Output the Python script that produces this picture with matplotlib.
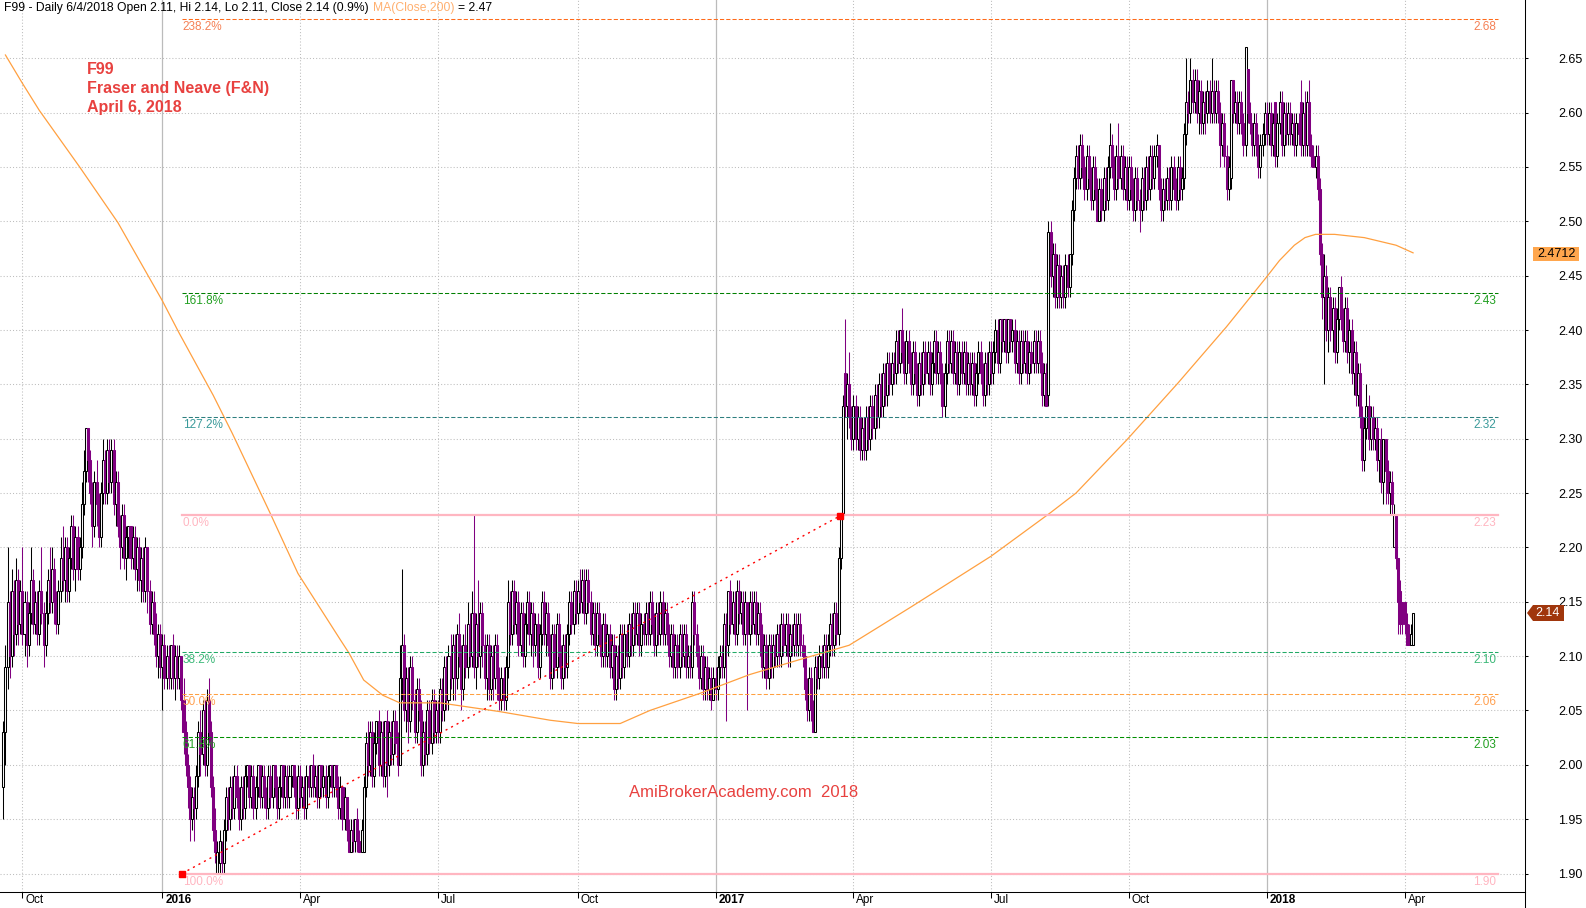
import matplotlib
matplotlib.use("Agg")
import matplotlib.pyplot as plt
from matplotlib import transforms
from matplotlib.lines import Line2D
from matplotlib.patches import Polygon, Rectangle
import numpy as np
import pandas as pd

plt.rcParams["font.family"] = ["Liberation Sans", "DejaVu Sans"]

W, H = 1586, 908


def cents(text):
    return np.array([int(v) for v in text.split()]) / 100.0


# F99 daily bars, 18 Sep 2015 .. 6 Apr 2018 (prices in cents, 10 bars per row)
opens = cents("""
198 203 209 215 210 216 212 217 213 216
212 215 211 214 217 213 215 212 216 214
211 214 217 215 218 215 213 216 219 217
220 216 219 222 218 221 218 220 224 227
231 228 225 222 226 224 221 225 228 225
229 226 229 224 226 222 220 223 219 221
222 219 221 218 220 217 219 216 220 216
213 215 212 210 212 209 211 208 210 208
211 208 210 208 210 206 203 200 198 195
197 196 199 203 201 205 200 206 203 198
194 190 191 192 191 194 197 195 198 196
199 197 195 198 196 199 200 197 199 196
198 200 197 199 197 196 199 197 200 198
196 198 200 197 199 197 199 200 198 196
199 197 198 196 199 198 200 198 199 197
200 198 199 197 199 200 198 200 198 196
198 195 197 194 192 194 193 195 193 192
192 198 202 200 203 199 202 204 200 203
199 204 200 203 201 204 202 200 208 211
205 208 204 209 206 203 207 205 200 203
201 205 202 206 203 205 203 207 205 209
206 210 208 211 208 212 210 207 211 209
213 210 214 209 213 210 214 211 208 211
207 210 208 211 208 206 208 206 209 215
212 216 213 215 211 214 210 213 215 212
214 211 213 209 212 215 212 214 211 208
212 209 213 210 208 211 209 212 215 213
216 214 216 215 217 214 217 215 212 214
211 214 212 210 213 210 212 209 211 207
210 208 212 209 212 210 213 211 214 212
214 211 213 212 214 212 215 213 211 214
212 215 212 214 212 210 212 209 211 209
212 210 212 209 210 209 215 212 210 208
210 207 209 207 208 206 208 207 209 210
209 213 211 216 213 215 212 216 214 215
212 215 212 215 213 215 212 214 212 209
211 208 211 209 211 210 212 210 213 211
213 210 212 211 213 211 213 211 210 207
205 208 205 203 209 208 210 209 211 209
211 213 211 214 212 219 223 236 233 235
232 230 233 230 232 229 231 229 232 230
233 231 234 232 235 233 236 234 237 235
237 236 239 237 240 238 236 239 237 235
238 236 234 237 235 238 236 238 235 237
239 236 238 236 233 236 239 237 239 236
238 235 238 236 238 235 237 235 237 234
236 238 236 234 237 235 238 236 238 240
237 241 239 241 238 241 239 240 237 239
236 239 237 239 236 238 237 239 237 239
237 234 236 234 249 245 247 243 246 243
245 243 246 244 247 251 254 256 254 257
255 253 256 254 252 255 253 250 253 251
254 252 255 257 255 253 256 254 256 253
255 252 255 253 251 254 252 251 254 252
255 253 256 254 256 257 253 251 253 252
254 252 255 253 252 255 253 254 258 261
260 263 261 263 260 262 259 261 260 262
260 262 260 262 260 257 259 256 253 254
263 260 261 259 261 259 257 264 260 259
257 259 257 255 257 258 260 258 260 257
261 256 259 261 257 260 258 260 258 259
257 259 261 257 260 257 261 257 256 255
256 253 247 243 245 240 243 240 242 238
241 244 241 239 242 238 240 236 238 234
236 232 228 231 233 230 232 230 231 228
230 226 230 227 225 226 220 223 219 216
215 215 213 212 211 211
""")

highs = cents("""
204 211 220 216 218 217 219 218 217 220
216 216 215 220 218 216 216 217 220 215
216 218 220 220 219 216 217 221 222 221
221 220 223 223 222 222 221 226 229 231
231 229 226 227 228 225 226 230 229 230
230 230 230 227 227 223 224 224 222 222
222 222 222 221 221 220 220 221 220 217
216 216 214 213 213 212 212 211 211 211
212 211 211 211 210 208 204 201 199 198
198 200 204 205 206 206 207 208 204 199
196 193 194 193 195 198 198 199 199 200
200 198 199 199 200 200 200 200 200 199
200 200 200 200 198 200 200 200 200 199
199 200 200 200 200 200 200 200 199 200
200 199 199 200 200 200 201 200 200 200
200 200 200 200 200 200 200 200 199 199
198 198 197 195 195 195 195 196 194 195
199 203 204 204 204 203 204 205 204 204
204 205 204 204 205 205 203 211 218 212
209 209 210 210 207 208 208 206 204 204
206 206 207 207 206 206 208 208 210 210
211 212 212 212 213 214 211 212 213 215
214 216 223 214 217 215 215 212 212 212
211 211 212 212 209 209 209 210 217 216
217 217 216 216 215 215 214 216 216 215
215 214 214 213 216 216 215 215 212 213
213 214 214 211 212 212 213 216 216 217
217 217 218 218 218 218 218 216 215 215
215 215 213 214 214 213 213 212 212 211
211 213 213 213 213 214 214 215 215 215
215 214 214 215 215 216 216 214 215 215
216 216 215 215 213 213 213 212 212 213
213 213 213 211 211 216 216 213 211 211
211 210 210 209 209 209 209 210 211 211
214 214 216 217 216 216 217 217 216 216
216 215 216 216 216 216 215 215 213 212
212 212 212 212 212 213 213 214 214 214
214 213 213 214 214 214 214 212 211 208
209 209 206 210 210 211 211 212 212 212
214 214 215 215 220 223 234 241 236 238
233 234 234 233 233 232 232 233 233 234
234 235 235 236 236 237 237 238 238 238
238 240 240 240 242 239 240 240 238 239
239 237 238 238 239 239 239 239 238 240
240 239 239 237 237 240 240 240 240 239
239 239 239 239 239 238 238 238 238 237
239 239 237 238 238 239 239 239 241 241
241 241 241 241 241 241 241 241 240 240
240 240 240 240 239 239 240 240 240 240
238 237 237 250 250 248 248 247 247 246
246 247 247 247 252 255 257 257 258 258
256 257 257 255 256 256 254 254 254 255
255 256 259 258 256 257 259 257 257 256
256 256 256 254 255 255 253 255 255 256
256 257 257 257 258 257 254 254 254 255
255 256 256 254 256 256 255 259 265 262
265 264 264 264 263 263 262 262 263 263
265 263 263 263 261 260 260 257 256 263
263 262 262 262 262 260 266 264 261 259
260 260 258 258 259 261 261 261 261 260
261 260 262 262 261 261 261 261 260 260
260 260 263 261 262 262 263 258 257 257
257 254 248 247 246 244 244 243 243 242
244 245 242 243 243 241 241 239 239 237
237 233 232 235 234 233 233 232 232 230
231 230 230 228 227 227 224 223 219 217
215 215 214 213 213 214
""")

lows = cents("""
195 200 207 208 209 210 211 211 212 211
210 209 210 213 212 212 211 211 213 209
210 213 214 214 213 212 212 215 216 215
215 215 218 217 216 217 217 219 223 226
226 224 220 221 222 220 220 224 224 224
225 225 223 222 221 218 219 218 217 219
218 218 217 216 216 215 215 215 214 212
212 211 209 208 208 205 207 207 207 207
207 206 207 207 205 201 199 196 193 194
193 195 198 199 200 199 199 202 197 193
191 190 190 190 190 193 194 194 195 195
196 194 194 195 195 198 196 196 195 195
197 196 196 196 195 195 196 196 197 195
195 197 196 196 196 196 198 197 195 195
196 196 195 195 197 197 197 197 196 196
197 197 196 196 198 197 197 197 195 195
194 194 193 192 192 192 192 192 192 192
192 197 199 199 198 198 201 199 199 198
198 197 199 200 200 201 199 200 206 204
203 202 203 205 202 202 204 199 199 200
200 201 201 202 202 202 202 204 204 205
205 207 206 206 207 209 205 206 208 208
209 209 208 207 209 208 209 207 206 206
206 206 207 206 205 205 205 205 208 211
211 212 212 210 210 209 209 212 211 210
209 210 208 208 211 211 210 210 207 207
208 208 209 207 207 208 208 211 212 212
213 213 214 214 213 213 214 211 211 210
210 211 209 209 209 209 208 208 206 206
207 207 208 208 209 209 210 210 211 211
210 210 211 211 211 211 212 210 210 211
211 211 211 211 209 209 208 208 208 208
209 209 208 208 208 208 211 209 207 207
206 206 206 206 205 206 206 206 208 208
208 204 210 212 212 211 211 213 213 211
211 205 211 212 212 211 211 210 208 208
207 207 208 208 209 209 209 209 210 210
209 209 210 210 210 210 210 209 206 204
204 204 203 203 207 207 208 208 208 208
210 210 210 211 211 218 223 232 230 231
229 229 229 229 228 228 228 228 229 229
230 230 231 231 232 232 233 233 234 234
235 235 236 236 237 235 235 236 234 234
235 233 233 234 234 235 235 234 234 236
235 235 235 232 232 235 236 236 235 235
234 234 235 235 234 234 234 234 233 233
235 235 233 233 234 234 235 235 237 236
236 238 238 237 237 238 238 236 236 235
235 236 236 235 235 236 236 236 236 236
233 233 233 233 244 243 242 242 242 242
242 242 243 243 246 250 253 253 253 254
252 252 253 251 251 252 250 250 250 250
251 251 254 254 252 252 253 253 252 252
251 251 252 250 250 251 249 250 251 251
252 252 253 253 255 252 250 250 251 251
251 251 252 251 251 252 252 253 257 259
259 260 260 259 258 258 258 258 259 259
259 259 259 259 255 256 255 252 252 253
259 259 258 258 258 256 256 259 258 256
256 256 254 254 256 257 257 257 256 256
255 255 258 256 256 257 257 257 257 256
256 257 256 256 256 256 256 255 255 254
252 246 241 235 239 238 239 238 237 237
240 240 238 238 237 236 235 234 233 233
231 227 227 230 229 229 229 229 227 226
225 224 224 224 223 223 220 218 212 212
212 212 211 211 211 211
""")

closes = cents("""
203 209 215 210 216 212 217 213 216 212
215 211 214 217 213 215 212 216 214 211
214 217 215 218 215 213 216 219 217 220
216 219 222 218 221 218 220 224 227 231
228 225 222 226 224 221 225 228 225 229
226 229 224 226 222 220 223 219 221 222
219 221 218 220 217 219 216 220 216 213
215 212 210 212 209 211 208 210 208 211
208 210 208 210 206 203 200 198 195 197
196 199 203 201 205 200 206 203 198 194
192 192 193 191 194 197 195 198 196 199
197 195 198 196 199 200 197 199 196 198
200 197 199 197 196 199 197 200 198 196
198 200 197 199 197 199 200 198 196 199
197 198 196 199 198 200 198 199 197 200
198 199 197 199 200 198 200 198 196 198
195 197 194 192 194 193 195 193 192 194
198 202 200 203 199 202 204 200 203 199
204 200 203 201 204 202 200 208 211 205
208 204 209 206 203 207 205 200 203 201
205 202 206 203 205 203 207 205 209 206
210 208 211 208 212 210 207 211 209 213
210 214 209 213 210 214 211 208 211 207
210 208 211 208 206 208 206 209 215 212
216 213 215 211 214 210 213 215 212 214
211 213 209 212 215 212 214 211 208 212
209 213 210 208 211 209 212 215 213 216
214 216 215 217 214 217 215 212 214 211
214 212 210 213 210 212 209 211 207 210
208 212 209 212 210 213 211 214 212 214
211 213 212 214 212 215 213 211 214 212
215 212 214 212 210 212 209 211 209 212
210 212 209 210 209 215 212 210 208 210
207 209 207 208 206 208 207 209 210 209
213 211 216 213 215 212 216 214 215 212
215 212 215 213 215 212 214 212 209 211
208 211 209 211 210 212 210 213 211 213
210 212 211 213 211 213 211 210 207 205
208 205 203 209 208 210 209 211 209 211
213 211 214 212 219 223 233 233 235 232
230 233 230 232 229 231 229 232 230 233
231 234 232 235 233 236 234 237 235 237
236 239 237 240 238 236 239 237 235 238
236 234 237 235 238 236 238 235 237 239
236 238 236 233 236 239 237 239 236 238
235 238 236 238 235 237 235 237 234 236
238 236 234 237 235 238 236 238 240 237
241 239 241 238 241 239 240 237 239 236
239 237 239 236 238 237 239 237 239 237
234 236 233 249 245 247 243 246 243 245
243 246 244 247 251 254 256 254 257 255
253 256 254 252 255 253 250 253 251 254
252 255 257 255 253 256 254 256 253 255
252 255 253 251 254 252 251 254 252 255
253 256 254 256 257 253 251 253 252 254
252 255 253 252 255 253 254 258 261 260
263 261 263 260 262 259 261 260 262 260
262 260 262 260 257 259 256 253 255 263
260 261 259 261 259 257 266 260 259 257
259 257 255 257 258 260 258 260 257 259
256 259 261 257 260 258 260 258 259 257
259 258 257 260 257 261 257 256 255 256
253 247 243 245 240 243 240 242 238 241
244 241 239 242 238 240 236 238 234 236
232 228 231 233 230 232 230 231 228 230
226 230 227 225 226 224 223 219 215 213
213 213 211 211 212 214
""")

# MA(Close,200) (bar index, value)
ma_idx = [1, 9, 17, 36, 54, 75, 83, 99, 108, 126, 139, 159, 163, 170, 179, 187, 206,
          234, 258, 271, 291, 305, 329, 352, 376, 399, 428, 466, 494, 506, 530, 554,
          577, 596, 602, 609, 614, 619, 628, 642, 657, 665]
ma_val = [2.653, 2.627, 2.602, 2.550, 2.499, 2.427, 2.397, 2.340, 2.305, 2.231, 2.176,
          2.115, 2.103, 2.078, 2.064, 2.057, 2.057, 2.049, 2.041, 2.038, 2.038, 2.050,
          2.066, 2.083, 2.097, 2.110, 2.145, 2.192, 2.232, 2.250, 2.299, 2.351, 2.403,
          2.449, 2.464, 2.478, 2.485, 2.488, 2.488, 2.485, 2.478, 2.471]

# Fibonacci study
fib_pct = ["238.2%", "161.8%", "127.2%", "0.0%", "38.2%", "50.0%", "61.8%", "100.0%"]
fib_level = [2.686, 2.434, 2.320, 2.230, 2.104, 2.065, 2.026, 1.900]
fib_value = ["2.68", "2.43", "2.32", "2.23", "2.10", "2.06", "2.03", "1.90"]
fib_line_col = ["#FF6A1A", "#008000", "#2E7F7F", "#FFB6C1", "#22AA66", "#FFA040", "#009000", "#FFB6C1"]
fib_text_col = ["#F58055", "#22A022", "#3A9A9A", "#FFB6C1", "#3CB878", "#FFA050", "#22A022", "#FFB6C1"]
fib_x0, fib_x1 = 84.3, 705
swing_x = [84.3, 394.7]
swing_y = [1.90, 2.229]

PURPLE = "#800080"
RED = "#E8413F"

n = len(closes)
x = np.arange(n)
dates = pd.bdate_range(end="2018-04-06", periods=n)
highs = np.maximum(highs, np.maximum(opens, closes))
lows = np.minimum(lows, np.minimum(opens, closes))

fig = plt.figure(figsize=(W / 100, H / 100), dpi=100)
ax = fig.add_axes([0, 16 / H, 1525 / W, 892 / H])
ax.set_xlim(-1.56, 717.8)
ax.set_ylim(1.883, 2.7036)

# grid
yticks = np.round(np.arange(1.90, 2.651, 0.05), 2)
for yv in yticks:
    ax.axhline(yv, color="#BDBDBD", lw=0.75, ls=(0, (1, 2)), zorder=1)

starts = [i for i in range(1, n) if dates[i].month != dates[i - 1].month and dates[i].month in (1, 4, 7, 10)]
for i in starts:
    if dates[i].month == 1:
        ax.axvline(i, color="#BBBBBB", lw=0.9, zorder=1)
    else:
        ax.axvline(i, color="#BDBDBD", lw=0.75, ls=(0, (1, 2)), zorder=1)

# candles
up = closes >= opens
edge = [("black" if u else PURPLE) for u in up]
face = [("white" if u else PURPLE) for u in up]
ax.vlines(x, lows, highs, colors=edge, linewidth=0.75, zorder=3)
ax.bar(x, np.abs(closes - opens), bottom=np.minimum(opens, closes), width=0.95,
       color=face, edgecolor=edge, linewidth=0.75, zorder=4)

# moving average
ax.plot(ma_idx, ma_val, color="#FFA040", lw=0.9, zorder=5)

# fibonacci lines
for pct, lvl, val, lc, tc in zip(fib_pct, fib_level, fib_value, fib_line_col, fib_text_col):
    if pct in ("0.0%", "100.0%"):
        ax.plot([fib_x0, fib_x1], [lvl, lvl], color=lc, lw=1.6, zorder=5)
    else:
        ax.plot([fib_x0, fib_x1], [lvl, lvl], color=lc, lw=0.75, ls=(0, (4, 2)), zorder=5)
    ax.annotate(pct, xy=(fib_x0, lvl), xytext=(0.5, -1.5), textcoords="offset points",
                ha="left", va="top", fontsize=8.5, color=tc, zorder=6)
    ax.annotate(val, xy=(fib_x1, lvl), xytext=(-1, -1.5), textcoords="offset points",
                ha="right", va="top", fontsize=8.5, color=tc, zorder=6)

ax.plot(swing_x, swing_y, color="red", lw=1.0, ls=(0, (1.5, 3)), zorder=6)
ax.plot(swing_x, swing_y, ls="none", marker="s", ms=4.3, color="red", zorder=7)

# axes styling
for side in ("top", "left"):
    ax.spines[side].set_visible(False)
for side in ("right", "bottom"):
    ax.spines[side].set_color("black")
    ax.spines[side].set_linewidth(0.75)
ax.set_yticks(yticks)
ax.set_yticklabels([f"{v:.2f}" for v in yticks])
ax.tick_params(axis="y", left=False, right=True, labelleft=False, labelright=True,
               length=2.2, width=0.75, pad=21.6, labelsize=9)
ax.set_xticks(starts)
ax.tick_params(axis="x", length=4, width=0.75, labelbottom=False)

lab_trans = transforms.offset_copy(transforms.blended_transform_factory(ax.transData, ax.transAxes),
                                   fig=fig, x=3, y=-2, units="dots")
for i in starts:
    d = dates[i]
    if d.month == 1:
        ax.text(i, 0, str(d.year), transform=lab_trans, ha="left", va="top",
                fontsize=8.5, fontweight="bold")
    else:
        ax.text(i, 0, d.strftime("%b"), transform=lab_trans, ha="left", va="top", fontsize=8.5)

fig.add_artist(Line2D([1525, 1525], [0, 16], transform=None, color="black", lw=0.75))

# header
t1 = fig.text(4 / W, 1 - 11 / H, "F99 - Daily 6/4/2018 Open 2.11, Hi 2.14, Lo 2.11, Close 2.14 (0.9%)",
              fontsize=8.75, va="baseline")
t2 = ax.annotate("MA(Close,200)", xy=(1, 0), xycoords=t1, xytext=(3, 0), textcoords="offset points",
                 va="bottom", fontsize=8.75, color="#FFB070")
ax.annotate("= 2.47", xy=(1, 0), xycoords=t2, xytext=(3, 0), textcoords="offset points",
            va="bottom", fontsize=8.75, color="black")

for txt, base in zip(["F99", "Fraser and Neave (F&N)", "April 6, 2018"], [74, 93, 112]):
    fig.text(87 / W, 1 - base / H, txt, fontsize=11.5, fontweight="bold", color=RED, va="baseline")

fig.text(743.5 / W, 1 - 792 / H, "AmiBrokerAcademy.com  2018", ha="center", va="center",
         fontsize=12, color=RED)

# right-hand value flags
fig.add_artist(Rectangle((1533, H - 261), 46, 14, transform=None, facecolor="#FFA64D",
                         edgecolor="none"))
fig.text(1556 / W, 1 - 254 / H, "2.4712", ha="center", va="center", fontsize=9)
fig.add_artist(Polygon([(1527, H - 613), (1533, H - 605), (1564, H - 605), (1564, H - 621),
                        (1533, H - 621)], closed=True, transform=None, facecolor="#A0360C",
                       edgecolor="none"))
fig.text(1548 / W, 1 - 613 / H, "2.14", ha="center", va="center", fontsize=9, color="white")

fig.savefig("out.png", dpi=100, facecolor="white")
